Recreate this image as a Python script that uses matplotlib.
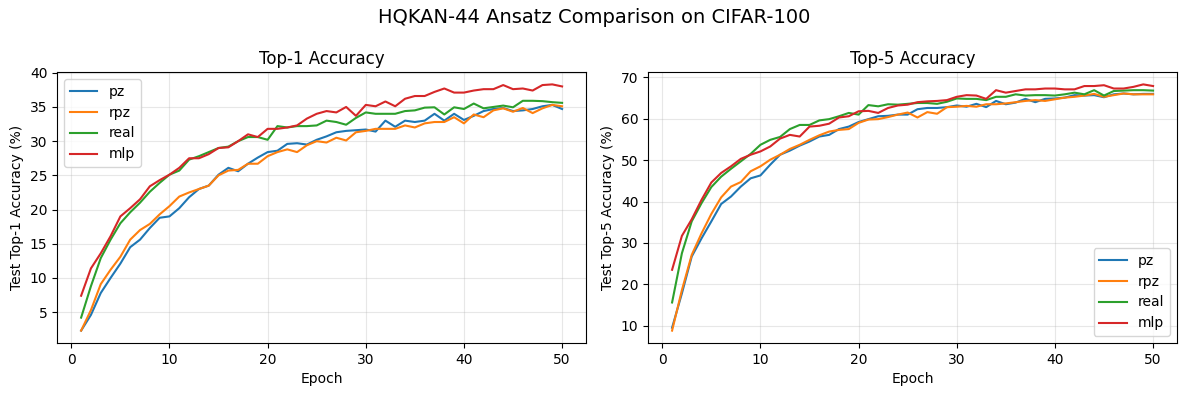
import matplotlib
matplotlib.use("Agg")
import matplotlib.pyplot as plt

epochs = list(range(1, 51))
series_names = ["pz", "rpz", "real", "mlp"]

top1_pz = [2.3, 4.6, 7.8, 10.0, 12.1, 14.5, 15.6, 17.3, 18.8, 19.0,
           20.2, 21.8, 23.0, 23.5, 25.1, 26.1, 25.6, 26.7, 27.6, 28.4,
           28.6, 29.6, 29.7, 29.5, 30.2, 30.7, 31.3, 31.5, 31.6, 31.7,
           31.4, 33.0, 32.1, 33.0, 32.8, 33.0, 34.0, 33.0, 34.0, 33.1,
           33.7, 34.4, 34.7, 34.85, 34.4, 34.5, 34.7, 35.1, 35.3, 34.7]
top1_rpz = [2.3, 5.3, 9.1, 11.2, 13.1, 15.6, 17.0, 17.9, 19.3, 20.5,
            21.9, 22.5, 23.0, 23.5, 25.0, 25.7, 25.8, 26.7, 26.7, 27.8,
            28.4, 28.8, 28.4, 29.4, 30.0, 29.8, 30.5, 30.1, 31.3, 31.5,
            31.8, 31.8, 31.8, 32.3, 32.0, 32.6, 32.8, 32.8, 33.5, 32.6,
            33.9, 33.5, 34.5, 34.8, 34.3, 34.85, 34.1, 34.8, 35.3, 35.1]
top1_real = [4.2, 8.8, 12.9, 15.6, 18.0, 19.6, 21.0, 22.6, 23.9, 25.1,
             25.7, 27.3, 27.8, 28.4, 29.0, 29.2, 30.0, 30.6, 30.6, 30.2,
             32.2, 32.0, 32.2, 32.2, 32.3, 33.0, 32.8, 32.4, 33.4, 34.2,
             34.0, 34.0, 34.0, 34.4, 34.5, 34.9, 34.95, 33.9, 34.95, 34.7,
             35.5, 34.8, 35.0, 35.2, 34.95, 35.9, 35.9, 35.85, 35.7, 35.6]
top1_mlp = [7.4, 11.4, 13.6, 16.1, 19.0, 20.2, 21.5, 23.4, 24.3, 25.1,
            26.1, 27.5, 27.5, 28.1, 29.0, 29.1, 30.0, 31.0, 30.6, 31.8,
            31.8, 32.0, 32.3, 33.3, 34.0, 34.4, 34.2, 35.0, 33.7, 35.3,
            35.1, 35.8, 35.1, 36.2, 36.6, 36.6, 37.2, 37.7, 37.1, 37.1,
            37.4, 37.6, 37.6, 38.2, 37.6, 37.7, 37.4, 38.2, 38.3, 38.0]

top5_pz = [9.5, 17.8, 26.7, 31.1, 35.2, 39.4, 41.2, 43.6, 45.6, 46.3,
           48.9, 51.3, 52.3, 53.5, 54.5, 55.7, 56.1, 57.5, 58.1, 59.2,
           59.9, 60.6, 60.7, 61.0, 61.0, 62.3, 62.6, 62.6, 62.8, 63.2,
           62.9, 63.6, 62.8, 64.3, 63.5, 63.9, 64.8, 64.0, 64.8, 64.9,
           65.1, 65.7, 65.6, 65.7, 65.2, 65.9, 66.1, 65.9, 66.0, 66.0]
top5_rpz = [8.8, 18.6, 27.1, 32.3, 37.0, 41.0, 43.6, 44.7, 47.3, 48.5,
            50.1, 51.3, 52.7, 53.7, 54.9, 56.0, 56.9, 57.3, 57.5, 59.0,
            59.8, 59.9, 60.4, 61.0, 61.5, 60.3, 61.6, 61.2, 62.8, 62.9,
            63.1, 62.9, 63.5, 63.5, 63.7, 64.0, 64.3, 64.5, 64.3, 64.7,
            65.1, 65.3, 65.6, 66.0, 65.3, 65.7, 66.1, 65.9, 65.9, 65.9]
top5_real = [15.6, 27.5, 35.2, 39.6, 43.5, 46.0, 47.9, 49.7, 51.5, 53.7,
             54.9, 55.6, 57.5, 58.5, 58.5, 59.6, 59.9, 60.6, 61.4, 61.0,
             63.3, 63.0, 63.5, 63.4, 63.6, 63.8, 63.8, 63.6, 64.1, 64.9,
             64.8, 64.8, 64.5, 65.3, 65.3, 65.9, 65.6, 65.7, 65.7, 65.6,
             65.9, 66.3, 65.9, 66.9, 65.6, 66.7, 66.8, 66.9, 66.9, 66.8]
top5_mlp = [23.5, 31.7, 35.7, 40.4, 44.6, 46.9, 48.5, 50.3, 51.3, 52.1,
            53.3, 55.2, 56.1, 55.7, 58.1, 58.3, 58.8, 60.3, 60.6, 61.8,
            61.9, 61.4, 62.6, 63.2, 63.4, 64.0, 64.2, 64.3, 64.5, 65.3,
            65.7, 65.6, 64.8, 66.9, 66.3, 66.7, 67.1, 67.1, 67.3, 67.3,
            67.1, 67.1, 67.9, 67.9, 68.1, 67.3, 67.3, 67.7, 68.3, 67.9]

top1 = [top1_pz, top1_rpz, top1_real, top1_mlp]
top5 = [top5_pz, top5_rpz, top5_real, top5_mlp]
colors = ["#1f77b4", "#ff7f0e", "#2ca02c", "#d62728"]

fig, axes = plt.subplots(1, 2, figsize=(11.89, 3.96), dpi=100)
fig.suptitle("HQKAN-44 Ansatz Comparison on CIFAR-100", fontsize=14)

ax = axes[0]
for name, vals, c in zip(series_names, top1, colors):
    ax.plot(epochs, vals, color=c, label=name, linewidth=1.5)
ax.set_title("Top-1 Accuracy")
ax.set_xlabel("Epoch")
ax.set_ylabel("Test Top-1 Accuracy (%)")
ax.grid(True, alpha=0.3)
ax.legend(loc="upper left")

ax = axes[1]
for name, vals, c in zip(series_names, top5, colors):
    ax.plot(epochs, vals, color=c, label=name, linewidth=1.5)
ax.set_title("Top-5 Accuracy")
ax.set_xlabel("Epoch")
ax.set_ylabel("Test Top-5 Accuracy (%)")
ax.grid(True, alpha=0.3)
ax.legend(loc="lower right")

fig.subplots_adjust(left=0.048, right=0.99, bottom=0.134, top=0.818, wspace=0.117)
fig.savefig("out.png", dpi=100)
